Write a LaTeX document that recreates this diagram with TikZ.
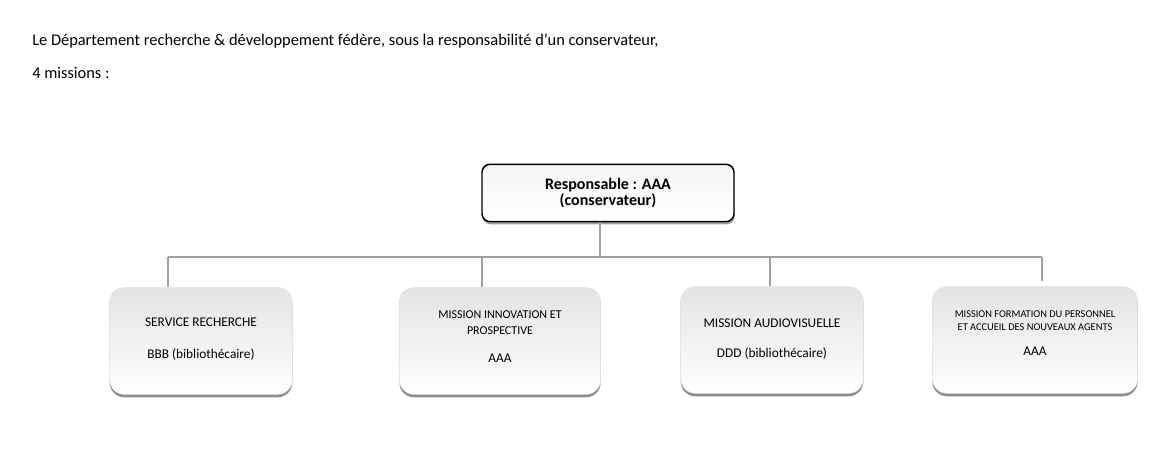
\documentclass[tikz,border=0pt]{standalone}
\usepackage{fontspec}
\setmainfont{Carlito}
\usetikzlibrary{calc,shadows}
\tikzset{
	headbox/.style={draw=black, line width=1.1pt, rounded corners=6pt, top color=gray!8, bottom color=white,
		drop shadow={shadow xshift=0.5pt, shadow yshift=-2pt, fill=black!60, opacity=0.6},
		minimum width=189pt, minimum height=43pt, align=center, font=\fontsize{12}{12.5}\selectfont\bfseries},
	unitbox/.style={draw=gray!25, line width=0.4pt, rounded corners=11pt, top color=gray!22, bottom color=white,
		drop shadow={shadow xshift=0pt, shadow yshift=-2.2pt, fill=black!75, opacity=0.6},
		minimum height=80pt, align=center, font=\fontsize{10}{12}\selectfont},
	link/.style={draw=gray!75, line width=0.9pt}
}
\begin{document}
\begin{tikzpicture}[x=0.75pt, y=-0.75pt]
			%%%%% START %%%%%
			\useasboundingbox[fill=white] (0, 0) rectangle (1174, 475);
			
			\node[anchor=base west, inner sep=0, font=\fontsize{12.3}{14}\selectfont] (intro) at (32, 45) {Le Département recherche \& développement fédère, sous la responsabilité d’un conservateur,};
			\node[anchor=base west, inner sep=0, font=\fontsize{12.3}{14}\selectfont] (count) at (32, 78) {4 missions :};
			
			\node[headbox] (chief) at (608, 193) {Responsable : AAA\\(conservateur)};
			
			\node[unitbox, minimum width=137pt] (research) at (201, 341) {SERVICE RECHERCHE\\[12pt]BBB (bibliothécaire)\\[-7.5pt]};
			\node[unitbox, minimum width=151pt] (innov) at (500, 341) {\fontsize{9}{11}\selectfont MISSION INNOVATION ET\\[0pt]\fontsize{9}{11}\selectfont PROSPECTIVE\\[9pt]AAA\\[-5pt]};
			\node[unitbox, minimum width=137pt] (av) at (772, 340) {MISSION AUDIOVISUELLE\\[10.5pt]DDD (bibliothécaire)\\[-9pt]};
			\node[unitbox, minimum width=154pt] (training) at (1035, 340) {\fontsize{7.8}{9.5}\selectfont MISSION FORMATION DU PERSONNEL\\[-2.5pt]\fontsize{7.8}{9.5}\selectfont ET ACCUEIL DES NOUVEAUX AGENTS\\[6.5pt]AAA\\[-1.5pt]};
			
			\coordinate (bus) at (600, 257);
			\coordinate (tickA) at (168, 257);
			\coordinate (tickB) at (482, 257);
			\coordinate (tickC) at (770, 257);
			\coordinate (tickD) at (1042, 257);
			
			\draw[link] (chief.south -| bus) -- (bus);
			\draw[link] (tickA) -- (tickD);
			\draw[link] (tickA) -- (tickA |- research.north);
			\draw[link] (tickB) -- (tickB |- innov.north);
			\draw[link] (tickC) -- (tickC |- av.north);
			\draw[link] (tickD) -- ($(tickD |- training.north)+(0, -5)$);
			
			%%%%% END %%%%%
\end{tikzpicture}
\end{document}
